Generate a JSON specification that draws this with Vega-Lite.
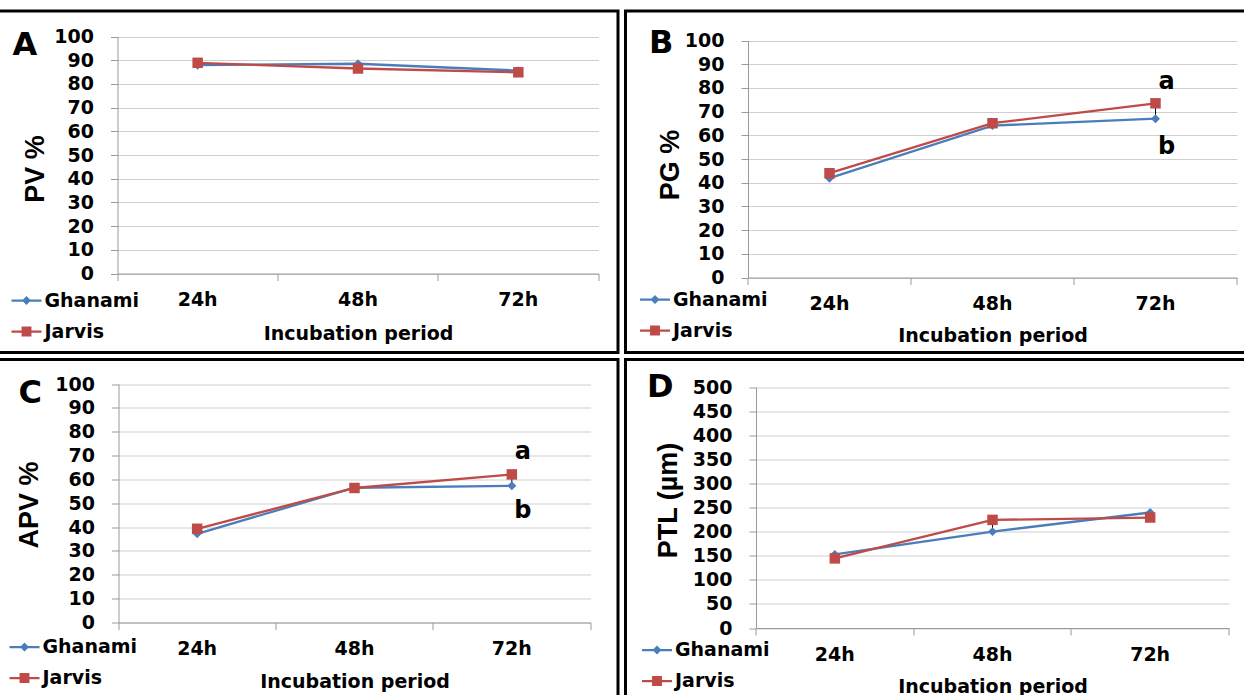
{
  "$schema": "https://vega.github.io/schema/vega-lite/v6.json",
  "padding": {"left": -4.5, "top": 9, "right": 0, "bottom": 0},
  "background": "white",
  "columns": 2,
  "spacing": {"row": 6.5, "column": 7},
  "bounds": "flush",
  "resolve": {"scale": {"color": "independent", "shape": "independent", "x": "independent", "y": "independent"}},
  "datasets": {
    "pts": [
      {"panel": "A", "period": "24h", "series": "Ghanami", "value": 87.9},
      {"panel": "A", "period": "48h", "series": "Ghanami", "value": 88.5},
      {"panel": "A", "period": "72h", "series": "Ghanami", "value": 85.6},
      {"panel": "A", "period": "24h", "series": "Jarvis", "value": 88.9},
      {"panel": "A", "period": "48h", "series": "Jarvis", "value": 86.5},
      {"panel": "A", "period": "72h", "series": "Jarvis", "value": 84.9},
      {"panel": "B", "period": "24h", "series": "Ghanami", "value": 41.9},
      {"panel": "B", "period": "48h", "series": "Ghanami", "value": 64.1},
      {"panel": "B", "period": "72h", "series": "Ghanami", "value": 67.0},
      {"panel": "B", "period": "24h", "series": "Jarvis", "value": 44.0},
      {"panel": "B", "period": "48h", "series": "Jarvis", "value": 65.1},
      {"panel": "B", "period": "72h", "series": "Jarvis", "value": 73.5},
      {"panel": "C", "period": "24h", "series": "Ghanami", "value": 37.2},
      {"panel": "C", "period": "48h", "series": "Ghanami", "value": 56.5},
      {"panel": "C", "period": "72h", "series": "Ghanami", "value": 57.3},
      {"panel": "C", "period": "24h", "series": "Jarvis", "value": 39.3},
      {"panel": "C", "period": "48h", "series": "Jarvis", "value": 56.4},
      {"panel": "C", "period": "72h", "series": "Jarvis", "value": 62.1},
      {"panel": "D", "period": "24h", "series": "Ghanami", "value": 152.8},
      {"panel": "D", "period": "48h", "series": "Ghanami", "value": 200.0},
      {"panel": "D", "period": "72h", "series": "Ghanami", "value": 239.6},
      {"panel": "D", "period": "24h", "series": "Jarvis", "value": 144.4},
      {"panel": "D", "period": "48h", "series": "Jarvis", "value": 224.3},
      {"panel": "D", "period": "72h", "series": "Jarvis", "value": 229.2}
    ],
    "err": [
      {"panel": "A", "period": "24h", "lo": 87.5, "hi": 90.0},
      {"panel": "A", "period": "48h", "lo": 85.5, "hi": 88.5},
      {"panel": "B", "period": "24h", "lo": 41.5, "hi": 45.5},
      {"panel": "B", "period": "48h", "lo": 64.0, "hi": 66.0},
      {"panel": "B", "period": "72h", "lo": 67.0, "hi": 73.5},
      {"panel": "C", "period": "24h", "lo": 36.5, "hi": 40.0},
      {"panel": "C", "period": "72h", "lo": 57.3, "hi": 62.5},
      {"panel": "D", "period": "24h", "lo": 138, "hi": 152},
      {"panel": "D", "period": "48h", "lo": 205, "hi": 226},
      {"panel": "D", "period": "72h", "lo": 228, "hi": 240}
    ],
    "ann": [
      {"panel": "B", "period": "72h", "value": 82.3, "label": "a"},
      {"panel": "B", "period": "72h", "value": 55.1, "label": "b"},
      {"panel": "C", "period": "72h", "value": 71.4, "label": "a"},
      {"panel": "C", "period": "72h", "value": 46.9, "label": "b"}
    ]
  },
  "concat": [
    {
      "width": 620.5, "height": 341.5,
      "title": {"text": "A", "anchor": "start", "frame": "group", "offset": -75.5, "dx": 15, "baseline": "alphabetic", "fontSize": 32, "font": "DejaVu Sans", "fontWeight": "bold", "color": "black"},
      "encoding": {
        "x": {"field": "period", "type": "nominal", "scale": {"type": "band", "range": [120, 601], "paddingInner": 0, "paddingOuter": 0},
              "axis": {"title": "Incubation period", "offset": -79, "titleY": 60, "bandPosition": 1, "tickExtra": true}},
        "y": {"field": "value", "type": "quantitative", "scale": {"domain": [0, 100], "range": [262.5, 25.5], "nice": false},
              "axis": {"title": "PV %", "offset": -120, "titleX": -82, "titleY": 157.5, "values": [0,10,20,30,40,50,60,70,80,90,100]}}
      },
      "layer": [
        {"data": {"name": "err"}, "transform": [{"filter": "datum.panel === 'A'"}], "mark": {"type": "rule", "color": "black", "strokeWidth": 1},
         "encoding": {"y": {"field": "lo", "type": "quantitative", "title": "PV %"}, "y2": {"field": "hi"}}},
        {"data": {"name": "pts"}, "transform": [{"filter": "datum.panel === 'A' && datum.series === 'Ghanami'"}], "mark": {"type": "line", "strokeWidth": 2.3, "color": "#4a7ebb"}, "encoding": {}},
        {"data": {"name": "pts"}, "transform": [{"filter": "datum.panel === 'A' && datum.series === 'Jarvis'"}], "mark": {"type": "line", "strokeWidth": 2.3, "color": "#be4b48"}, "encoding": {}},
        {"data": {"name": "pts"}, "transform": [{"filter": "datum.panel === 'A' && datum.series === 'Ghanami'"}], "mark": {"type": "point", "shape": "diamond", "filled": true, "opacity": 1, "size": 80, "color": "#4a7ebb"}},
        {"data": {"name": "pts"}, "transform": [{"filter": "datum.panel === 'A' && datum.series === 'Jarvis'"}], "mark": {"type": "point", "shape": "square", "filled": true, "opacity": 1, "size": 110, "color": "#be4b48"}},
        {"data": {"name": "pts"}, "transform": [{"filter": "datum.panel === 'A'"}], "mark": {"type": "point", "filled": true, "opacity": 0, "size": 900},
         "encoding": {
           "color": {"field": "series", "type": "nominal", "scale": {"domain": ["Ghanami", "Jarvis"], "range": ["#4a7ebb", "#be4b48"]},
                     "legend": {"title": null, "orient": "none", "legendX": 13, "legendY": 273.5, "direction": "vertical"}},
           "shape": {"field": "series", "type": "nominal", "scale": {"domain": ["Ghanami", "Jarvis"], "range": ["M-1,-0.075H1V0.075H-1ZM0,-0.3L0.3,0L0,0.3L-0.3,0Z", "M-1,-0.075H1V0.075H-1ZM-0.33,-0.33H0.33V0.33H-0.33Z"]}, "legend": null}}}
      ]
    },
    {
      "width": 630, "height": 341.5,
      "title": {"text": "B", "anchor": "start", "frame": "group", "offset": -73.5, "dx": 23.5, "baseline": "alphabetic", "fontSize": 32, "font": "DejaVu Sans", "fontWeight": "bold", "color": "black"},
      "encoding": {
        "x": {"field": "period", "type": "nominal", "scale": {"type": "band", "range": [122.5, 611.5], "paddingInner": 0, "paddingOuter": 0},
              "axis": {"title": "Incubation period", "offset": -75, "titleY": 58, "bandPosition": 1, "tickExtra": true}},
        "y": {"field": "value", "type": "quantitative", "scale": {"domain": [0, 100], "range": [266.5, 29.5], "nice": false},
              "axis": {"title": "PG %", "offset": -122.5, "titleX": -78, "titleY": 153.5, "values": [0,10,20,30,40,50,60,70,80,90,100]}}
      },
      "layer": [
        {"data": {"name": "err"}, "transform": [{"filter": "datum.panel === 'B'"}], "mark": {"type": "rule", "color": "black", "strokeWidth": 1},
         "encoding": {"y": {"field": "lo", "type": "quantitative", "title": "PG %"}, "y2": {"field": "hi"}}},
        {"data": {"name": "pts"}, "transform": [{"filter": "datum.panel === 'B' && datum.series === 'Ghanami'"}], "mark": {"type": "line", "strokeWidth": 2.3, "color": "#4a7ebb"}, "encoding": {}},
        {"data": {"name": "pts"}, "transform": [{"filter": "datum.panel === 'B' && datum.series === 'Jarvis'"}], "mark": {"type": "line", "strokeWidth": 2.3, "color": "#be4b48"}, "encoding": {}},
        {"data": {"name": "pts"}, "transform": [{"filter": "datum.panel === 'B' && datum.series === 'Ghanami'"}], "mark": {"type": "point", "shape": "diamond", "filled": true, "opacity": 1, "size": 80, "color": "#4a7ebb"}},
        {"data": {"name": "pts"}, "transform": [{"filter": "datum.panel === 'B' && datum.series === 'Jarvis'"}], "mark": {"type": "point", "shape": "square", "filled": true, "opacity": 1, "size": 110, "color": "#be4b48"}},
        {"data": {"name": "pts"}, "transform": [{"filter": "datum.panel === 'B'"}], "mark": {"type": "point", "filled": true, "opacity": 0, "size": 900},
         "encoding": {
           "color": {"field": "series", "type": "nominal", "scale": {"domain": ["Ghanami", "Jarvis"], "range": ["#4a7ebb", "#be4b48"]},
                     "legend": {"title": null, "orient": "none", "legendX": 13.5, "legendY": 272.5, "direction": "vertical"}},
           "shape": {"field": "series", "type": "nominal", "scale": {"domain": ["Ghanami", "Jarvis"], "range": ["M-1,-0.075H1V0.075H-1ZM0,-0.3L0.3,0L0,0.3L-0.3,0Z", "M-1,-0.075H1V0.075H-1ZM-0.33,-0.33H0.33V0.33H-0.33Z"]}, "legend": null}}},
        {"data": {"name": "ann"}, "transform": [{"filter": "datum.panel === 'B'"}], "mark": {"type": "text", "dx": 11, "baseline": "middle", "font": "DejaVu Sans", "fontWeight": "bold", "fontSize": 24, "color": "black"},
         "encoding": {"text": {"field": "label"}}}
      ]
    },
    {
      "width": 620.5, "height": 340,
      "title": {"text": "C", "anchor": "start", "frame": "group", "offset": -75.5, "dx": 21, "baseline": "alphabetic", "fontSize": 32, "font": "DejaVu Sans", "fontWeight": "bold", "color": "black"},
      "encoding": {
        "x": {"field": "period", "type": "nominal", "scale": {"type": "band", "range": [121, 593], "paddingInner": 0, "paddingOuter": 0},
              "axis": {"title": "Incubation period", "offset": -77, "titleY": 58.5, "bandPosition": 1, "tickExtra": true}},
        "y": {"field": "value", "type": "quantitative", "scale": {"domain": [0, 100], "range": [263, 24.5], "nice": false},
              "axis": {"title": "APV %", "offset": -121, "titleX": -89, "titleY": 145, "values": [0,10,20,30,40,50,60,70,80,90,100]}}
      },
      "layer": [
        {"data": {"name": "err"}, "transform": [{"filter": "datum.panel === 'C'"}], "mark": {"type": "rule", "color": "black", "strokeWidth": 1},
         "encoding": {"y": {"field": "lo", "type": "quantitative", "title": "APV %"}, "y2": {"field": "hi"}}},
        {"data": {"name": "pts"}, "transform": [{"filter": "datum.panel === 'C' && datum.series === 'Ghanami'"}], "mark": {"type": "line", "strokeWidth": 2.3, "color": "#4a7ebb"}, "encoding": {}},
        {"data": {"name": "pts"}, "transform": [{"filter": "datum.panel === 'C' && datum.series === 'Jarvis'"}], "mark": {"type": "line", "strokeWidth": 2.3, "color": "#be4b48"}, "encoding": {}},
        {"data": {"name": "pts"}, "transform": [{"filter": "datum.panel === 'C' && datum.series === 'Ghanami'"}], "mark": {"type": "point", "shape": "diamond", "filled": true, "opacity": 1, "size": 80, "color": "#4a7ebb"}},
        {"data": {"name": "pts"}, "transform": [{"filter": "datum.panel === 'C' && datum.series === 'Jarvis'"}], "mark": {"type": "point", "shape": "square", "filled": true, "opacity": 1, "size": 110, "color": "#be4b48"}},
        {"data": {"name": "pts"}, "transform": [{"filter": "datum.panel === 'C'"}], "mark": {"type": "point", "filled": true, "opacity": 0, "size": 900},
         "encoding": {
           "color": {"field": "series", "type": "nominal", "scale": {"domain": ["Ghanami", "Jarvis"], "range": ["#4a7ebb", "#be4b48"]},
                     "legend": {"title": null, "orient": "none", "legendX": 11, "legendY": 271.5, "direction": "vertical"}},
           "shape": {"field": "series", "type": "nominal", "scale": {"domain": ["Ghanami", "Jarvis"], "range": ["M-1,-0.075H1V0.075H-1ZM0,-0.3L0.3,0L0,0.3L-0.3,0Z", "M-1,-0.075H1V0.075H-1ZM-0.33,-0.33H0.33V0.33H-0.33Z"]}, "legend": null}}},
        {"data": {"name": "ann"}, "transform": [{"filter": "datum.panel === 'C'"}], "mark": {"type": "text", "dx": 11, "baseline": "middle", "font": "DejaVu Sans", "fontWeight": "bold", "fontSize": 24, "color": "black"},
         "encoding": {"text": {"field": "label"}}}
      ]
    },
    {
      "width": 630, "height": 340,
      "title": {"text": "D", "anchor": "start", "frame": "group", "offset": -69.5, "dx": 21.5, "baseline": "alphabetic", "fontSize": 32, "font": "DejaVu Sans", "fontWeight": "bold", "color": "black"},
      "encoding": {
        "x": {"field": "period", "type": "nominal", "scale": {"type": "band", "range": [130.5, 603.5], "paddingInner": 0, "paddingOuter": 0},
              "axis": {"title": "Incubation period", "offset": -71.5, "titleY": 58, "bandPosition": 1, "tickExtra": true}},
        "y": {"field": "value", "type": "quantitative", "scale": {"domain": [0, 500], "range": [268.5, 27.5], "nice": false},
              "axis": {"title": "PTL (µm)", "offset": -130.5, "titleX": -88, "titleY": 140.5, "values": [0,50,100,150,200,250,300,350,400,450,500]}}
      },
      "layer": [
        {"data": {"name": "err"}, "transform": [{"filter": "datum.panel === 'D'"}], "mark": {"type": "rule", "color": "black", "strokeWidth": 1},
         "encoding": {"y": {"field": "lo", "type": "quantitative", "title": "PTL (µm)"}, "y2": {"field": "hi"}}},
        {"data": {"name": "pts"}, "transform": [{"filter": "datum.panel === 'D' && datum.series === 'Ghanami'"}], "mark": {"type": "line", "strokeWidth": 2.3, "color": "#4a7ebb"}, "encoding": {}},
        {"data": {"name": "pts"}, "transform": [{"filter": "datum.panel === 'D' && datum.series === 'Jarvis'"}], "mark": {"type": "line", "strokeWidth": 2.3, "color": "#be4b48"}, "encoding": {}},
        {"data": {"name": "pts"}, "transform": [{"filter": "datum.panel === 'D' && datum.series === 'Ghanami'"}], "mark": {"type": "point", "shape": "diamond", "filled": true, "opacity": 1, "size": 80, "color": "#4a7ebb"}},
        {"data": {"name": "pts"}, "transform": [{"filter": "datum.panel === 'D' && datum.series === 'Jarvis'"}], "mark": {"type": "point", "shape": "square", "filled": true, "opacity": 1, "size": 110, "color": "#be4b48"}},
        {"data": {"name": "pts"}, "transform": [{"filter": "datum.panel === 'D'"}], "mark": {"type": "point", "filled": true, "opacity": 0, "size": 900},
         "encoding": {
           "color": {"field": "series", "type": "nominal", "scale": {"domain": ["Ghanami", "Jarvis"], "range": ["#4a7ebb", "#be4b48"]},
                     "legend": {"title": null, "orient": "none", "legendX": 15.5, "legendY": 274.5, "direction": "vertical"}},
           "shape": {"field": "series", "type": "nominal", "scale": {"domain": ["Ghanami", "Jarvis"], "range": ["M-1,-0.075H1V0.075H-1ZM0,-0.3L0.3,0L0,0.3L-0.3,0Z", "M-1,-0.075H1V0.075H-1ZM-0.33,-0.33H0.33V0.33H-0.33Z"]}, "legend": null}}}
      ]
    }
  ],
  "config": {
    "view": {"stroke": "black", "strokeWidth": 3, "fill": "white"},
    "axis": {"labelFont": "DejaVu Sans", "labelFontWeight": "bold", "labelFontSize": 19, "labelColor": "black",
             "domainColor": "#9a9a9a", "tickColor": "#9a9a9a", "gridColor": "#cfcfcf", "tickSize": 7, "domainWidth": 1, "tickWidth": 1},
    "axisX": {"grid": false, "labelAngle": 0, "labelPadding": 10, "titleFont": "DejaVu Sans", "titleFontWeight": "bold", "titleFontSize": 19, "titleColor": "black", "titleBaseline": "middle"},
    "axisY": {"grid": true, "labelPadding": 17, "titleFont": "Liberation Sans", "titleFontSize": 27, "titleFontWeight": "bold", "titleColor": "black", "titleBaseline": "middle", "titleAlign": "center", "titleAngle": -90},
    "legend": {"labelFont": "DejaVu Sans", "labelFontWeight": "bold", "labelFontSize": 19, "labelColor": "black", "symbolSize": 900, "symbolOpacity": 1, "rowPadding": 5, "labelOffset": 2, "padding": 0}
  }
}
